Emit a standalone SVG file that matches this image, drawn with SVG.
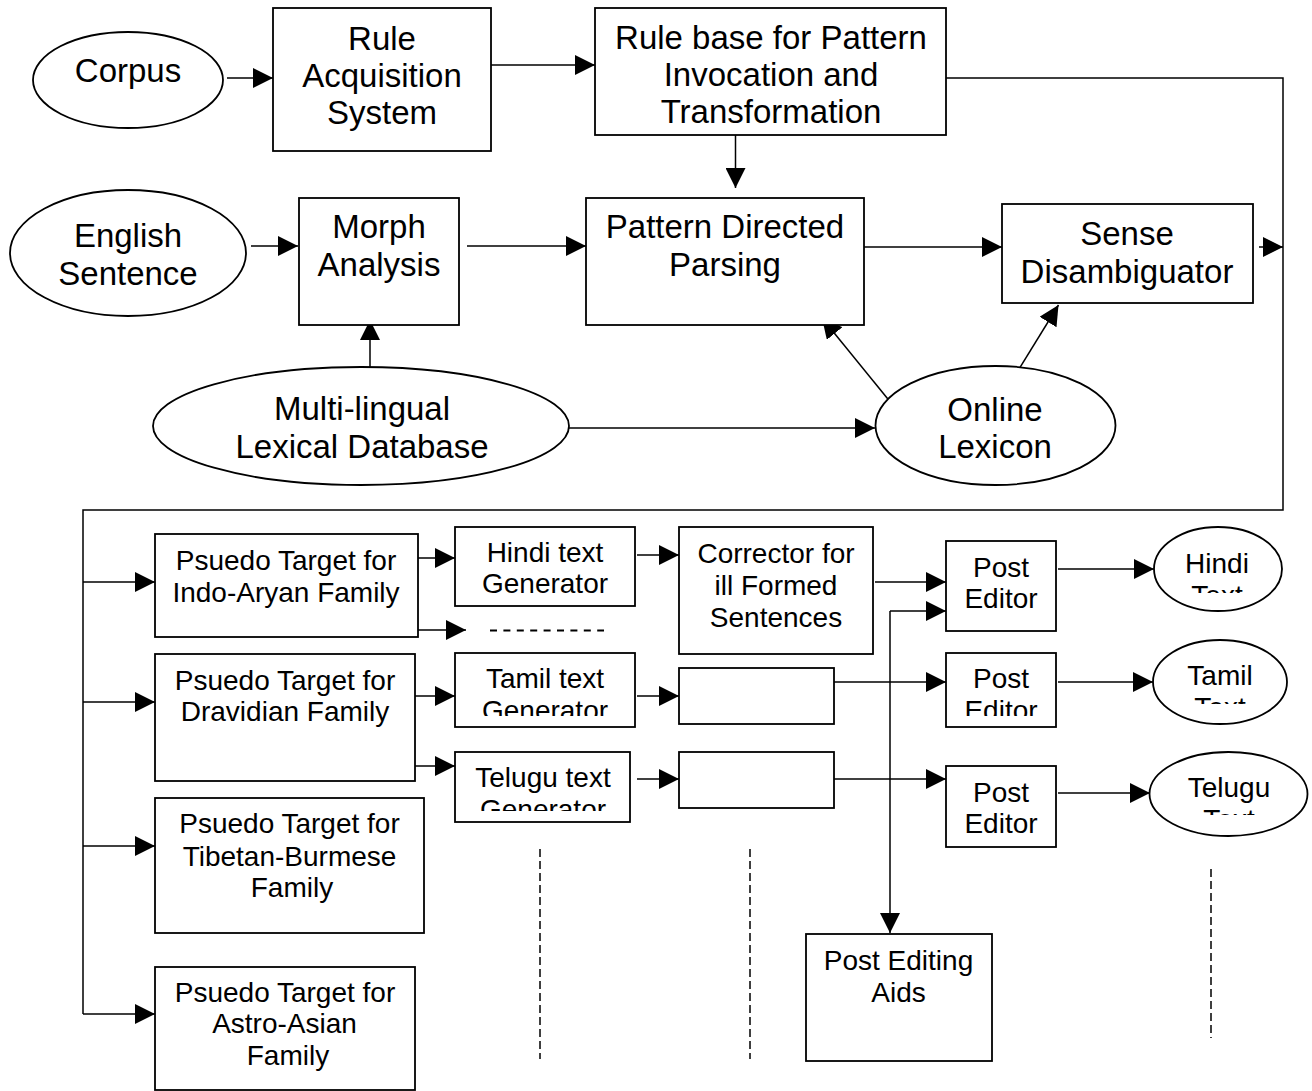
<svg xmlns="http://www.w3.org/2000/svg" width="1312" height="1091" viewBox="0 0 1312 1091">
<style>
.b{fill:#fff;stroke:#000;stroke-width:1.8}
.L{font-family:"Liberation Sans",Arial,sans-serif;font-size:33px;fill:#000;text-anchor:middle}
.S{font-family:"Liberation Sans",Arial,sans-serif;font-size:28px;fill:#000;text-anchor:middle}
.c{fill:none;stroke:#000;stroke-width:1.5}
.a{marker-end:url(#ah)}
.d{fill:none;stroke:#000;stroke-width:1.5;stroke-dasharray:8,4}
.h{fill:none;stroke:#000;stroke-width:1.8;stroke-dasharray:7,6.4}
</style>
<defs>
<marker id="ah" markerUnits="userSpaceOnUse" markerWidth="20" markerHeight="20" refX="20" refY="10" orient="auto">
<path d="M0,0 L20,10 L0,20 Z" fill="#000"/>
</marker>
<clipPath id="cTamG"><rect x="455" y="653" width="180" height="63"/></clipPath>
<clipPath id="cTelG"><rect x="455" y="752" width="175" height="59"/></clipPath>
<clipPath id="cPE2"><rect x="946" y="653" width="110" height="63"/></clipPath>
<clipPath id="cHT"><rect x="1150" y="527" width="140" height="66"/></clipPath>
<clipPath id="cTaT"><rect x="1150" y="640" width="140" height="64"/></clipPath>
<clipPath id="cTeT"><rect x="1145" y="751" width="167" height="64"/></clipPath>
</defs>
<rect width="1312" height="1091" fill="#fff"/>

<g id="connectors">
<path class="c a" d="M227,78 H273"/>
<path class="c a" d="M483,65 H595"/>
<path class="c" d="M946,78 H1283 V510 H83 V1014"/>
<path class="c a" d="M735.5,135 V188"/>
<path class="c a" d="M251,246 H298"/>
<path class="c a" d="M467,246 H586"/>
<path class="c a" d="M370,375 V320"/>
<path class="c a" d="M569,428 H875"/>
<path class="c a" d="M889.5,401 L822,318"/>
<path class="c a" d="M1016.5,373 L1058.5,305"/>
<path class="c a" d="M862,247 H1002"/>
<path class="c a" d="M1259,247 H1283"/>
<path class="c a" d="M83,582 H155"/>
<path class="c a" d="M83,702 H155"/>
<path class="c a" d="M83,846 H155"/>
<path class="c a" d="M83,1014 H155"/>
<path class="c a" d="M418,558 H455"/>
<path class="c a" d="M418,630 H466"/>
<path class="h" d="M490,630.5 H604"/>
<path class="c a" d="M637,555 H679"/>
<path class="c a" d="M875,582 H946"/>
<path class="c a" d="M890,611 H946"/>
<path class="c a" d="M890,611 V933"/>
<path class="c a" d="M1058,569 H1154"/>
<path class="c a" d="M413,696 H455"/>
<path class="c a" d="M413,766 H455"/>
<path class="c a" d="M637,696 H679"/>
<path class="c a" d="M637,779 H679"/>
<path class="c a" d="M834,682 H946"/>
<path class="c a" d="M834,779 H946"/>
<path class="c a" d="M1058,682 H1153"/>
<path class="c a" d="M1058,793 H1150"/>
<path class="d" d="M540,849 V1059"/>
<path class="d" d="M750,849 V1059"/>
<path class="d" d="M1211,869 V1038"/>
</g>

<g id="corpus"><ellipse class="b" cx="128" cy="80" rx="95" ry="48"/><text class="L" x="128" y="82">Corpus</text></g>
<g id="rule-acquisition"><rect class="b" x="273" y="8" width="218" height="143"/><text class="L"><tspan x="382" y="50">Rule</tspan><tspan x="382" y="87">Acquisition</tspan><tspan x="382" y="124">System</tspan></text></g>
<g id="rule-base"><rect class="b" x="595" y="8" width="351" height="127"/><text class="L"><tspan x="771" y="49">Rule base for Pattern</tspan><tspan x="771" y="86">Invocation and</tspan><tspan x="771" y="123">Transformation</tspan></text></g>
<g id="english-sentence"><ellipse class="b" cx="128" cy="253" rx="118" ry="63"/><text class="L"><tspan x="128" y="247">English</tspan><tspan x="128" y="285">Sentence</tspan></text></g>
<g id="morph-analysis"><rect class="b" x="299" y="198" width="160" height="127"/><text class="L"><tspan x="379" y="238">Morph</tspan><tspan x="379" y="276">Analysis</tspan></text></g>
<g id="pattern-parsing"><rect class="b" x="586" y="198" width="278" height="127"/><text class="L"><tspan x="725" y="238">Pattern Directed</tspan><tspan x="725" y="276">Parsing</tspan></text></g>
<g id="sense-disambiguator"><rect class="b" x="1002" y="204" width="251" height="99"/><text class="L"><tspan x="1127" y="245">Sense</tspan><tspan x="1127" y="283">Disambiguator</tspan></text></g>
<g id="multilingual-db"><ellipse class="b" cx="361" cy="426" rx="208" ry="59"/><text class="L"><tspan x="362" y="420">Multi-lingual</tspan><tspan x="362" y="458">Lexical Database</tspan></text></g>
<g id="online-lexicon"><ellipse class="b" cx="995.5" cy="425.5" rx="120" ry="59.5"/><text class="L"><tspan x="995" y="421">Online</tspan><tspan x="995" y="458">Lexicon</tspan></text></g>

<g id="pt-indo-aryan"><rect class="b" x="155" y="534" width="263" height="103"/><text class="S"><tspan x="286" y="570">Psuedo Target for</tspan><tspan x="286" y="602">Indo-Aryan Family</tspan></text></g>
<g id="hindi-gen"><rect class="b" x="455" y="527" width="180" height="79"/><text class="S"><tspan x="545" y="562">Hindi text</tspan><tspan x="545" y="593">Generator</tspan></text></g>
<g id="corrector"><rect class="b" x="679" y="527" width="194" height="127"/><text class="S"><tspan x="776" y="563">Corrector for</tspan><tspan x="776" y="595">ill Formed</tspan><tspan x="776" y="627">Sentences</tspan></text></g>
<g id="post-editor-1"><rect class="b" x="946" y="541" width="110" height="90"/><text class="S"><tspan x="1001" y="577">Post</tspan><tspan x="1001" y="608">Editor</tspan></text></g>
<g id="hindi-text"><ellipse class="b" cx="1218" cy="569" rx="64" ry="42"/><text class="S" clip-path="url(#cHT)"><tspan x="1217" y="573">Hindi</tspan><tspan x="1217" y="605">Text</tspan></text></g>

<g id="pt-dravidian"><rect class="b" x="155" y="654" width="260" height="127"/><text class="S"><tspan x="285" y="690">Psuedo Target for</tspan><tspan x="285" y="721">Dravidian Family</tspan></text></g>
<g id="tamil-gen"><rect class="b" x="455" y="653" width="180" height="74"/><text class="S" clip-path="url(#cTamG)"><tspan x="545" y="688">Tamil text</tspan><tspan x="545" y="720">Generator</tspan></text></g>
<g id="tamil-box"><rect class="b" x="679" y="668" width="155" height="56"/></g>
<g id="post-editor-2"><rect class="b" x="946" y="653" width="110" height="74"/><text class="S" clip-path="url(#cPE2)"><tspan x="1001" y="688">Post</tspan><tspan x="1001" y="720">Editor</tspan></text></g>
<g id="tamil-text"><ellipse class="b" cx="1220" cy="682" rx="67" ry="42"/><text class="S" clip-path="url(#cTaT)"><tspan x="1220" y="685">Tamil</tspan><tspan x="1220" y="717">Text</tspan></text></g>

<g id="telugu-gen"><rect class="b" x="455" y="752" width="175" height="70"/><text class="S" clip-path="url(#cTelG)"><tspan x="543" y="787">Telugu text</tspan><tspan x="543" y="819">Generator</tspan></text></g>
<g id="telugu-box"><rect class="b" x="679" y="752" width="155" height="56"/></g>
<g id="post-editor-3"><rect class="b" x="946" y="766" width="110" height="81"/><text class="S"><tspan x="1001" y="802">Post</tspan><tspan x="1001" y="833">Editor</tspan></text></g>
<g id="telugu-text"><ellipse class="b" cx="1228.5" cy="794" rx="79" ry="42"/><text class="S" clip-path="url(#cTeT)"><tspan x="1229" y="797">Telugu</tspan><tspan x="1229" y="829">Text</tspan></text></g>

<g id="pt-tibetan"><rect class="b" x="155" y="798" width="269" height="135"/><text class="S"><tspan x="289.5" y="833">Psuedo Target for</tspan><tspan x="289.5" y="866">Tibetan-Burmese</tspan><tspan x="292" y="897">Family</tspan></text></g>
<g id="pt-astro"><rect class="b" x="155" y="967" width="260" height="123"/><text class="S"><tspan x="285" y="1002">Psuedo Target for</tspan><tspan x="284.5" y="1033">Astro-Asian</tspan><tspan x="288" y="1065">Family</tspan></text></g>
<g id="post-editing-aids"><rect class="b" x="806" y="934" width="186" height="127"/><text class="S"><tspan x="898.5" y="970">Post Editing</tspan><tspan x="898.5" y="1002">Aids</tspan></text></g>
</svg>
